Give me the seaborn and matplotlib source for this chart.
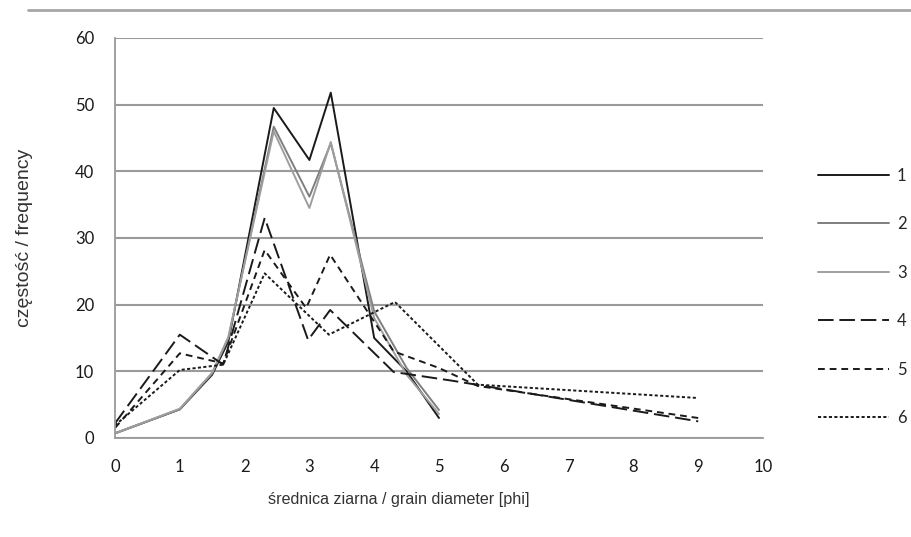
import matplotlib
matplotlib.use("Agg")
import pandas as pd
import matplotlib.pyplot as plt
import seaborn as sns
from matplotlib.lines import Line2D

# -----------------------
# dane
# -----------------------
x_1 = [0, 1, 1.5, 1.75, 2.45, 3, 3.33, 4, 4.5, 5]
y_1 = [0.7, 4.3, 9.5, 14.5, 49.5, 41.7, 51.8, 15, 10, 3]

x_2 = [0, 1, 1.5, 1.75, 2.45, 3, 3.33, 4, 4.5, 5]
y_2 = [0.7, 4.3, 9.7, 15, 46.7, 36.2, 44.2, 19, 10.5, 4.2]

x_3 = [0, 1, 1.5, 1.75, 2.45, 3, 3.33, 4, 4.5, 5]
y_3 = [0.7, 4.4, 9.8, 15.2, 46.0, 34.5, 44.4, 18, 9.5, 3.6]

x_4 = [0, 1, 1.67, 2.31, 2.98, 3.32, 4.3, 5.2, 9]
y_4 = [2.2, 15.5, 11, 33, 14.7, 19.2, 9.9, 8.6, 2.5]

x_5 = [0, 1, 1.67, 2.31, 2.95, 3.32, 4.3, 5, 5.6, 9]
y_5 = [1.5, 12.7, 11.2, 28.2, 19.5, 27.5, 13, 10.5, 7.8, 3.0]

x_6 = [0, 1, 1.67, 2.31, 3.3, 4.32, 5.6, 9]
y_6 = [1.9, 10.2, 11, 24.7, 15.5, 20.4, 8, 6]

series_names = ["1", "2", "3", "4", "5", "6"]
x_ticks = list(range(0, 11))
y_ticks = list(range(0, 61, 10))

# -----------------------
# DataFrame
# -----------------------
frames = []
for name, xs, ys in zip(series_names,
                        [x_1, x_2, x_3, x_4, x_5, x_6],
                        [y_1, y_2, y_3, y_4, y_5, y_6]):
    frames.append(pd.DataFrame({"phi": xs, "freq": ys, "seria": name}))
df = pd.concat(frames, ignore_index=True)

palette = {"1": "#1a1a1a", "2": "#7f7f7f", "3": "#9e9e9e",
           "4": "#1a1a1a", "5": "#1a1a1a", "6": "#1a1a1a"}
dashes = {"1": "", "2": "", "3": "", "4": (8, 3), "5": (3.5, 2.5), "6": (1.6, 1.2)}

# -----------------------
# wykres
# -----------------------
sns.set_style("white")
plt.rcParams['font.family'] = ['Liberation Sans', 'DejaVu Sans']

fig = plt.figure(figsize=(9.11, 5.37), dpi=100)
ax = fig.add_axes([115 / 911, 1 - 438 / 537, 648 / 911, 400 / 537])

sns.lineplot(data=df, x="phi", y="freq", hue="seria", style="seria",
             palette=palette, dashes=dashes, sort=False, estimator=None,
             linewidth=1.4, ax=ax)

ax.set_xlim(0, 10)
ax.set_ylim(0, 60)
ax.set_xticks(x_ticks)
ax.set_yticks(y_ticks)
ax.yaxis.grid(True, color="#9a9a9a", linewidth=1.5)
ax.set_axisbelow(True)

for side in ["top", "right"]:
    ax.spines[side].set_visible(False)
for side in ["left", "bottom"]:
    ax.spines[side].set_color("#9a9a9a")
    ax.spines[side].set_linewidth(1.3)

ax.tick_params(axis="both", direction="out", length=5, width=1.2,
               color="#9a9a9a", labelsize=12, labelcolor="#1a1a1a", pad=10)
for lab in ax.get_xticklabels() + ax.get_yticklabels():
    lab.set_family(["Lato", "DejaVu Sans"])

ax.set_xlabel("średnica ziarna / grain diameter [phi]", fontsize=11.6,
              color="#333333")
ax.xaxis.set_label_coords(0.438, -0.135)
ax.set_ylabel("częstość / frequency", fontsize=14, color="#333333")
ax.yaxis.set_label_coords(-0.127, 0.5)

handles, labels = ax.get_legend_handles_labels()
leg = ax.legend(handles, labels, loc="upper left",
                bbox_to_anchor=(811 / 911, 1 - 161 / 537),
                bbox_transform=fig.transFigure,
                frameon=False, handlelength=4.25, handletextpad=0.5,
                labelspacing=1.95, fontsize=12, title=None,
                borderaxespad=0)
for t in leg.get_texts():
    t.set_family(["Lato", "DejaVu Sans"])

# szara linia na górze
fig.add_artist(Line2D([28 / 911, 1], [1 - 10 / 537, 1 - 10 / 537],
                      transform=fig.transFigure, color="#a6a6a6", linewidth=2))

fig.savefig("out.png", dpi=100)
